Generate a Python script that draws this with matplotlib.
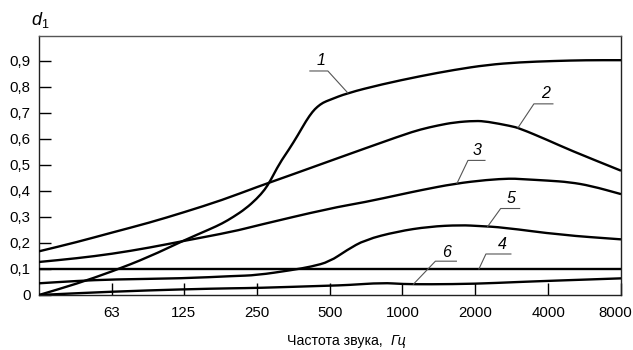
import numpy as np
import matplotlib
matplotlib.use("Agg")
import matplotlib.pyplot as plt
import matplotlib.transforms as mtransforms
from matplotlib import font_manager
from matplotlib.path import Path
from matplotlib.patches import PathPatch

# узкая гарнитура, если есть; иначе обычная Liberation Sans помельче
installed = {f.name for f in font_manager.fontManager.ttflist}
if 'Liberation Sans Narrow' in installed:
    FONT, TICK_FS, LABEL_FS, NUM_FS = 'Liberation Sans Narrow', 12, 11.5, 12
else:
    FONT, TICK_FS, LABEL_FS, NUM_FS = 'Liberation Sans', 10.8, 10.2, 11.5

plt.rcParams['font.family'] = [FONT, 'DejaVu Sans']
plt.rcParams['mathtext.fontset'] = 'custom'
plt.rcParams['mathtext.it'] = FONT + ':italic'
plt.rcParams['mathtext.rm'] = FONT

# частоты, Гц, и коэффициенты d1 для кривых 1-6
f1 = [31.5, 45, 63, 90, 125, 160, 180, 200, 225, 250, 270, 285, 310, 340, 370,
      400, 425, 445, 470, 500, 590, 820, 1190, 1640, 2240, 3050, 4240, 5700, 8000]
d1_1 = [0.0, 0.043, 0.09, 0.147, 0.21, 0.253, 0.275, 0.3, 0.332, 0.37, 0.405,
        0.44, 0.505, 0.56, 0.615, 0.67, 0.705, 0.724, 0.74, 0.75, 0.776, 0.81,
        0.842, 0.866, 0.885, 0.895, 0.9, 0.903, 0.903]

f2 = [31.5, 45, 63, 90, 125, 180, 250, 355, 500, 1000, 1190, 1400, 1640, 2000,
      2240, 2800, 3050, 4000, 4900, 8000]
d1_2 = [0.168, 0.203, 0.24, 0.278, 0.318, 0.365, 0.415, 0.465, 0.515, 0.615,
        0.637, 0.652, 0.664, 0.67, 0.667, 0.65, 0.641, 0.595, 0.558, 0.478]

f3 = [31.5, 45, 63, 90, 125, 200, 250, 500, 700, 1000, 1190, 1640, 2240, 2800,
      3050, 4000, 4900, 6000, 8000]
d1_3 = [0.127, 0.141, 0.158, 0.182, 0.208, 0.244, 0.267, 0.333, 0.357, 0.388,
        0.403, 0.428, 0.443, 0.448, 0.446, 0.44, 0.434, 0.42, 0.388]

f4 = [31.5, 8000]
d1_4 = [0.1, 0.1]

f5 = [31.5, 45, 63, 125, 200, 250, 350, 420, 500, 590, 700, 950, 1290, 1740,
      2100, 2600, 4500, 8000]
d1_5 = [0.045, 0.054, 0.06, 0.064, 0.073, 0.076, 0.096, 0.109, 0.128, 0.173,
        0.212, 0.244, 0.263, 0.269, 0.265, 0.26, 0.231, 0.214]

f6 = [31.5, 63, 125, 200, 250, 500, 590, 830, 1000, 1290, 2000, 3000, 4200, 8000]
d1_6 = [0.0, 0.013, 0.022, 0.026, 0.027, 0.036, 0.038, 0.047, 0.042, 0.041,
        0.043, 0.05, 0.055, 0.064]

curves = {'1': (f1, d1_1), '2': (f2, d1_2), '3': (f3, d1_3),
          '4': (f4, d1_4), '5': (f5, d1_5), '6': (f6, d1_6)}

x_ticks = [63, 125, 250, 500, 1000, 2000, 4000, 8000]
y_ticks = [0, 0.1, 0.2, 0.3, 0.4, 0.5, 0.6, 0.7, 0.8, 0.9]
y_labels = ['0', '0,1', '0,2', '0,3', '0,4', '0,5', '0,6', '0,7', '0,8', '0,9']

# где выноска касается кривой (Гц) и смещения излома/полки/текста в пикселях
leaders = {
    '1': (595, (-20, 22), (-18, 0), (-27, 32)),
    '2': (3000, (16, 24), (19, 0), (28, 34)),
    '3': (1680, (11, 23), (17, 0), (20, 33)),
    '5': (2250, (13, 18), (19, 0), (23, 28)),
    '4': (2070, (7, 15), (25, 0), (23, 24)),
    '6': (1110, (22, 23), (21, 0), (33, 32)),
}


def smooth_path(xs, ys):
    # ломаная по точкам, углы скруглены квадратичными кривыми Безье
    pts = list(zip(xs, ys))
    if len(pts) < 3:
        return Path(pts)
    verts = [pts[0]]
    codes = [Path.MOVETO]
    for i in range(1, len(pts) - 1):
        x0, y0 = pts[i - 1]
        x1, y1 = pts[i]
        x2, y2 = pts[i + 1]
        # середины соседних отрезков берём в лог-масштабе по x
        m0 = (np.sqrt(x0 * x1), (y0 + y1) / 2)
        m1 = (np.sqrt(x1 * x2), (y1 + y2) / 2)
        verts += [m0, (x1, y1), m1]
        codes += [Path.LINETO, Path.CURVE3, Path.CURVE3]
    verts.append(pts[-1])
    codes.append(Path.LINETO)
    return Path(verts, codes)


fig = plt.figure(figsize=(6.33, 3.5), dpi=100)
ax = fig.add_axes([39 / 633, 1 - 295 / 350, 582 / 633, 259 / 350])

ax.set_xscale('log', base=2)
ax.set_xlim(31.5, 8000)
ax.set_ylim(0, 0.996)

for name, (f, d) in curves.items():
    patch = PathPatch(smooth_path(f, d), facecolor='none', edgecolor='black',
                      lw=1.7, joinstyle='round', capstyle='butt', zorder=3)
    ax.add_patch(patch)

ax.set_xticks(x_ticks)
ax.set_xticklabels([str(t) for t in x_ticks])
ax.xaxis.set_minor_locator(matplotlib.ticker.NullLocator())
ax.set_yticks(y_ticks)
ax.set_yticklabels(y_labels)
ax.tick_params(axis='both', direction='in', length=8.5, width=1.0,
               labelsize=TICK_FS, color='black')
ax.tick_params(axis='x', pad=8)
ax.tick_params(axis='y', pad=6)
for s in ax.spines.values():
    s.set_linewidth(1.0)
    s.set_color('#222222')
ax.spines['top'].set_color('#555555')

# подпись 8000 чуть левее, чтобы не выходила за край
last = ax.get_xticklabels()[-1]
last.set_transform(last.get_transform() +
                   mtransforms.ScaledTranslation(-4 / 72, 0, fig.dpi_scale_trans))

# выноски с номерами кривых
fig.canvas.draw()
inv = ax.transData.inverted()
for name, (ft, elbow, shelf, txt) in leaders.items():
    f, d = curves[name]
    yt = np.interp(np.log2(ft), np.log2(f), d)
    px, py = ax.transData.transform((ft, yt))
    ex, ey = px + elbow[0], py + elbow[1]
    pts = inv.transform([(px, py), (ex, ey), (ex + shelf[0], ey)])
    ax.plot(pts[:, 0], pts[:, 1], color='#555555', lw=0.8, zorder=4,
            clip_on=False)
    tx, ty = inv.transform((px + txt[0], py + txt[1]))
    ax.text(tx, ty, name, fontsize=NUM_FS, style='italic', ha='center',
            va='center', zorder=5)

fig.text(40 / 633, 1 - 20 / 350, r'$d_1$', fontsize=13, ha='center',
         va='center')

fig.text(383 / 633, 1 - 345 / 350, 'Частота звука,', fontsize=LABEL_FS,
         ha='right', va='baseline')
fig.text(391 / 633, 1 - 345 / 350, 'Гц', fontsize=LABEL_FS, style='italic',
         ha='left', va='baseline')

fig.savefig('out.png', dpi=100)
